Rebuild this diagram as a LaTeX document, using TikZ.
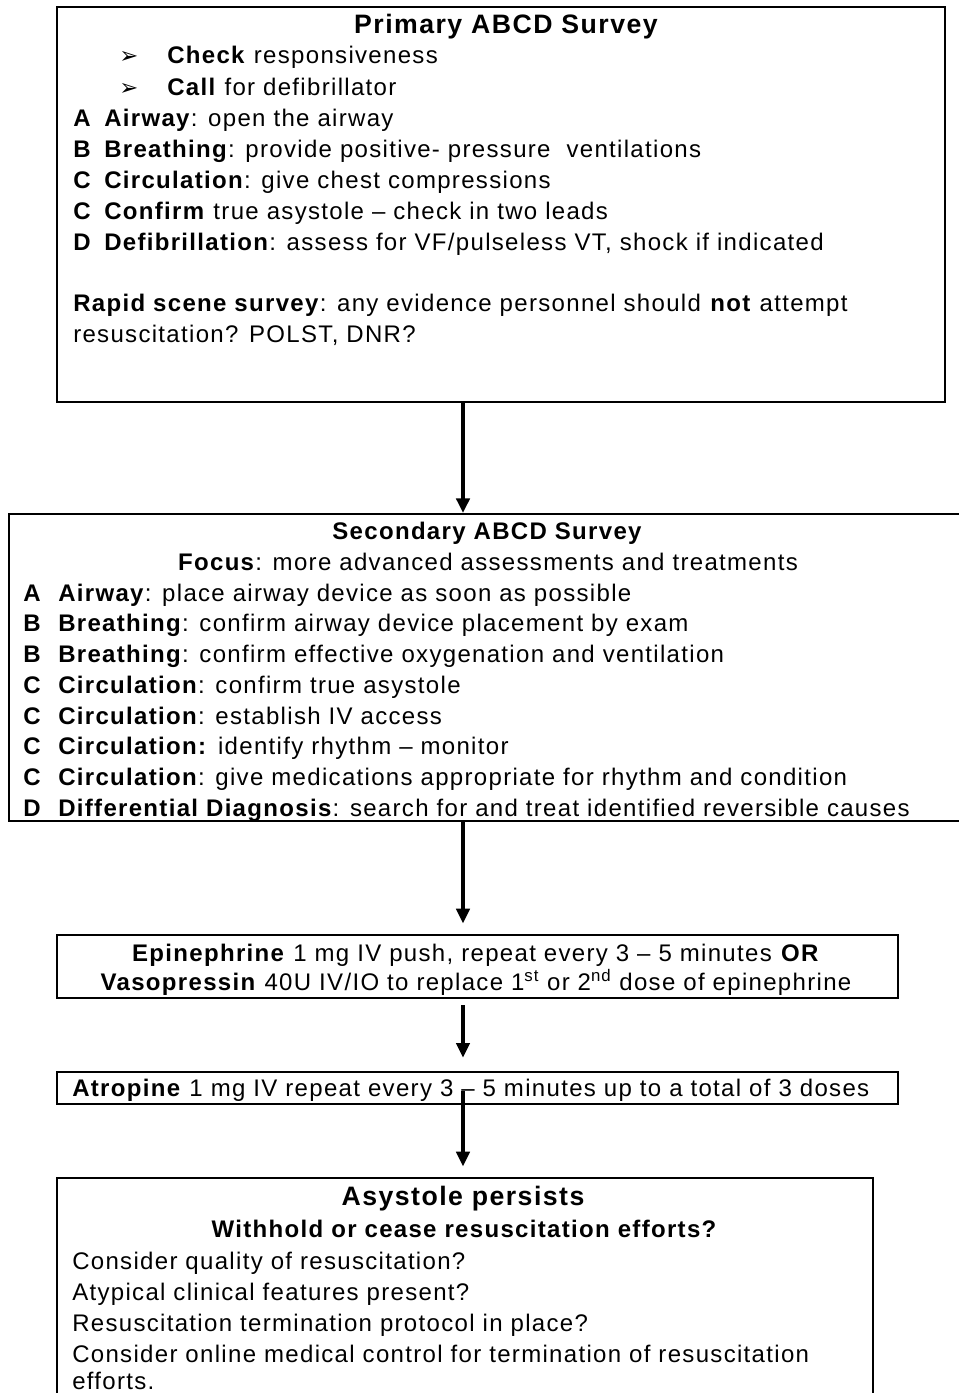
\documentclass[tikz,border=0pt]{standalone}
\usepackage{fontspec}
\setmainfont{Liberation Sans}[LetterSpace=5.5]
\newfontfamily\symfont{DejaVu Sans}
\usetikzlibrary{arrows.meta}
\newcommand\bodyfs{\fontsize{18}{21}\selectfont}
\newcommand\headfs{\fontsize{20}{23}\selectfont}
\newcommand\pointer{{\symfont\fontsize{17}{20}\selectfont ➢}}
\begin{document}
\begin{tikzpicture}[x=0.75pt,y=-0.75pt,
  box/.style={draw, line width=1.6pt, anchor=north west, inner sep=0pt},
  txt/.style={anchor=base west, inner sep=0pt, font=\bodyfs},
  ctr/.style={anchor=base, inner sep=0pt, font=\bodyfs},
  arr/.style={line width=2.6pt, -{Triangle[width=10pt,length=11pt]}}]
\useasboundingbox (0,0) rectangle (959,1393);

% boxes
\node[box, minimum width=666pt, minimum height=296.25pt] (b1) at (56,6) {};
\node[box, minimum width=718.5pt, minimum height=230.25pt] (b2) at (8,513) {};
\node[box, minimum width=630.75pt, minimum height=47.25pt] (b3) at (56,934) {};
\node[box, minimum width=630.75pt, minimum height=24pt] (b4) at (56,1071) {};
\node[box, minimum width=612pt, minimum height=167.25pt] (b5) at (56,1177) {};

% primary survey
\node[ctr, font=\headfs] (t1) at (506,33) {\bfseries Primary ABCD Survey};
\node[txt] (p1a) at (119,63) {\pointer};
\node[txt] (p1b) at (167,63) {\textbf{Check} responsiveness};
\node[txt] (p2a) at (119,95) {\pointer};
\node[txt] (p2b) at (167,95) {\textbf{Call} for defibrillator};
\node[txt] (l1a) at (73,126) {\bfseries A};
\node[txt] (l1b) at (104,126) {\textbf{Airway}: open the airway};
\node[txt] (l2a) at (73,157) {\bfseries B};
\node[txt] (l2b) at (104,157) {\textbf{Breathing}: provide positive- pressure\ \ ventilations};
\node[txt] (l3a) at (73,188) {\bfseries C};
\node[txt] (l3b) at (104,188) {\textbf{Circulation}: give chest compressions};
\node[txt] (l4a) at (73,219) {\bfseries C};
\node[txt] (l4b) at (104,219) {\textbf{Confirm} true asystole -- check in two leads};
\node[txt] (l5a) at (73,250) {\bfseries D};
\node[txt] (l5b) at (104,250) {\textbf{Defibrillation}: assess for VF/pulseless VT, shock if indicated};
\node[txt] (r1) at (73,311) {\textbf{Rapid scene survey}: any evidence personnel should \textbf{not} attempt};
\node[txt] (r2) at (73,342) {resuscitation? POLST, DNR?};

% secondary survey
\node[ctr] (t2) at (487,539) {\bfseries Secondary ABCD Survey};
\node[ctr] (f2) at (488,570) {\textbf{Focus}: more advanced assessments and treatments};
\node[txt] (s1a) at (23,601) {\bfseries A};
\node[txt] (s1b) at (58,601) {\textbf{Airway}: place airway device as soon as possible};
\node[txt] (s2a) at (23,631) {\bfseries B};
\node[txt] (s2b) at (58,631) {\textbf{Breathing}: confirm airway device placement by exam};
\node[txt] (s3a) at (23,662) {\bfseries B};
\node[txt] (s3b) at (58,662) {\textbf{Breathing}: confirm effective oxygenation and ventilation};
\node[txt] (s4a) at (23,693) {\bfseries C};
\node[txt] (s4b) at (58,693) {\textbf{Circulation}: confirm true asystole};
\node[txt] (s5a) at (23,724) {\bfseries C};
\node[txt] (s5b) at (58,724) {\textbf{Circulation}: establish IV access};
\node[txt] (s6a) at (23,754) {\bfseries C};
\node[txt] (s6b) at (58,754) {\textbf{Circulation:} identify rhythm -- monitor};
\node[txt] (s7a) at (23,785) {\bfseries C};
\node[txt] (s7b) at (58,785) {\textbf{Circulation}: give medications appropriate for rhythm and condition};
\node[txt] (s8a) at (23,816) {\bfseries D};
\node[txt] (s8b) at (58,816) {\textbf{Differential Diagnosis}: search for and treat identified reversible causes};

% drugs
\node[ctr] (e1) at (476,961) {\textbf{Epinephrine} 1 mg IV push, repeat every 3 -- 5 minutes \textbf{OR}};
\node[ctr] (e2) at (476,990) {\textbf{Vasopressin} 40U IV/IO to replace 1\textsuperscript{st} or 2\textsuperscript{nd} dose of epinephrine};
\node[txt] (at) at (72,1096) {\textbf{Atropine} 1 mg IV repeat every 3 -- 5 minutes up to a total of 3 doses};

% final box
\node[ctr, font=\headfs] (t5) at (463,1205) {\bfseries Asystole persists};
\node[ctr] (w5) at (464,1237) {\bfseries Withhold or cease resuscitation efforts?};
\node[txt] (q1) at (72,1269) {Consider quality of resuscitation?};
\node[txt] (q2) at (72,1300) {Atypical clinical features present?};
\node[txt] (q3) at (72,1331) {Resuscitation termination protocol in place?};
\node[txt] (q4) at (72,1362) {Consider online medical control for termination of resuscitation};
\node[txt] (q5) at (72,1389) {efforts.};

% flow arrows
\coordinate (ax) at (463,0);
\draw[arr] (b1.south -| ax) -- (b2.north -| ax);
\draw[arr] (b2.south -| ax) -- ([yshift=8pt]b3.north -| ax);
\draw[arr] (b3.south -| ax) ++(0,6) -- ([yshift=10pt]b4.north -| ax);
\draw[arr] (b4.north -| ax) ++(0,20) -- ([yshift=8pt]b5.north -| ax);
\end{tikzpicture}
\end{document}
